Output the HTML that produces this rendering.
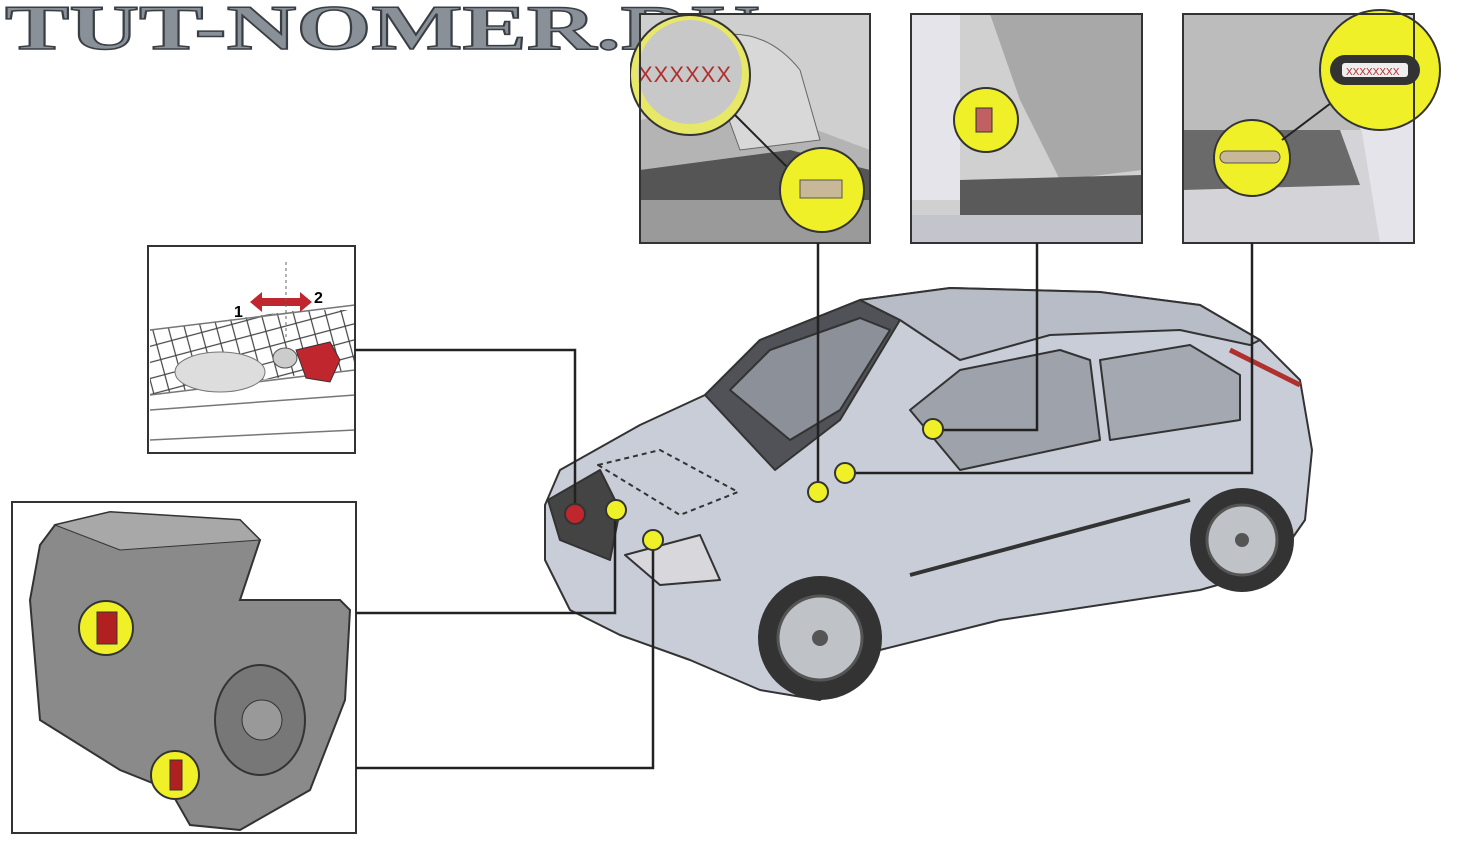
<!DOCTYPE html>
<html><head><meta charset="utf-8"><style>
html,body{margin:0;padding:0;background:#fff;width:1480px;height:848px;overflow:hidden}
svg{display:block}
</style></head><body>
<svg width="1480" height="848" viewBox="0 0 1480 848" xmlns="http://www.w3.org/2000/svg">
<defs>
<pattern id="hatch" width="22" height="22" patternUnits="userSpaceOnUse" patternTransform="rotate(30)">
<path d="M0 0L22 22M22 0L0 22" stroke="#444" stroke-width="1.2" fill="none"/>
</pattern>
<clipPath id="c1"><rect x="630" y="14" width="240" height="229"/></clipPath>
</defs>
<rect width="1480" height="848" fill="#fff"/>

<!-- title -->
<text x="5" y="49" font-family="Liberation Serif, serif" font-weight="bold" font-size="64" fill="#8a9098" stroke="#3a3f45" stroke-width="1.5" textLength="755" lengthAdjust="spacingAndGlyphs">TUT-NOMER.RU</text>

<!-- top box 1 -->
<g>
<rect x="640" y="14" width="230" height="229" fill="#b4b4b4"/>
<path d="M640 14H870V150L790 120 700 110 640 120Z" fill="#cfcfcf"/>
<path d="M640 170L790 150 870 170V200L640 200Z" fill="#555"/>
<path d="M640 200H870V243H640Z" fill="#9a9a9a"/>
<path d="M700 40Q760 20 800 70L820 140 740 150Z" fill="#d8d8d8" stroke="#666"/>
<g clip-path="url(#c1)">
<circle cx="690" cy="75" r="60" fill="#e8e868" stroke="#333" stroke-width="2"/>
<circle cx="690" cy="72" r="52" fill="#c8c8c8"/>
</g>
<text x="638" y="82" font-family="Liberation Sans, sans-serif" font-size="22" fill="#b03030" letter-spacing="1">XXXXXX</text>
<path d="M735 115L790 170" stroke="#222" stroke-width="2"/>
<circle cx="822" cy="190" r="42" fill="#f0f028" stroke="#333" stroke-width="2"/>
<rect x="800" y="180" width="42" height="18" fill="#c8b898" stroke="#555"/>
<rect x="640" y="14" width="230" height="229" fill="none" stroke="#333" stroke-width="2"/>
</g>
<!-- top box 2 -->
<g>
<rect x="911" y="14" width="231" height="229" fill="#d0d0d0"/>
<path d="M911 14H960V200H911Z" fill="#e4e4ea"/>
<path d="M990 14H1142V170L1060 180 1020 100Z" fill="#a8a8a8"/>
<path d="M960 180L1142 175V215L960 215Z" fill="#5a5a5a"/>
<path d="M911 215H1142V243H911Z" fill="#c4c4cc"/>
<circle cx="986" cy="120" r="32" fill="#f0f028" stroke="#333" stroke-width="2"/>
<rect x="976" y="108" width="16" height="24" fill="#c06060" stroke="#333"/>
<rect x="911" y="14" width="231" height="229" fill="none" stroke="#333" stroke-width="2"/>
</g>
<!-- top box 3 -->
<g>
<rect x="1183" y="14" width="231" height="229" fill="#d4d4d8"/>
<path d="M1183 14H1360V130H1183Z" fill="#bcbcbc"/>
<path d="M1183 130H1340L1360 185 1183 190Z" fill="#6a6a6a"/>
<path d="M1360 120L1414 110V243H1380Z" fill="#e4e4ea"/>
<circle cx="1252" cy="158" r="38" fill="#f0f028" stroke="#333" stroke-width="2"/>
<rect x="1220" y="151" width="60" height="12" rx="6" fill="#c8b898" stroke="#555"/>
<path d="M1282 140L1335 100" stroke="#222" stroke-width="2"/>
<circle cx="1380" cy="70" r="60" fill="#f0f028" stroke="#333" stroke-width="2"/>
<rect x="1330" y="55" width="90" height="30" rx="15" fill="#333"/>
<rect x="1342" y="63" width="66" height="14" rx="3" fill="#eee"/>
<text x="1346" y="75" font-family="Liberation Sans, sans-serif" font-size="10" fill="#b03030">XXXXXXXX</text>
<rect x="1183" y="14" width="231" height="229" fill="none" stroke="#333" stroke-width="2"/>
</g>

<!-- left box (grille) -->
<g>
<rect x="148" y="246" width="207" height="207" fill="#fff"/>
<path d="M150 330L300 310 355 310V370L300 375 150 395Z" fill="url(#hatch)"/>
<path d="M150 330L355 305M150 395L355 370M150 410L355 395M150 440L355 430" stroke="#777" stroke-width="1.5" fill="none"/>
<ellipse cx="220" cy="372" rx="45" ry="20" fill="#ddd" stroke="#777"/>
<ellipse cx="285" cy="358" rx="12" ry="10" fill="#ccc" stroke="#555"/>
<path d="M296 350L330 342 340 360 330 382 306 378Z" fill="#c0262e" stroke="#333"/>
<path d="M250 302L262 292V298H300V292L312 302 300 312V306H262V312Z" fill="#c0262e"/>
<text x="234" y="317" font-family="Liberation Sans, sans-serif" font-weight="bold" font-size="16">1</text>
<text x="314" y="303" font-family="Liberation Sans, sans-serif" font-weight="bold" font-size="16">2</text>
<line x1="286" y1="262" x2="286" y2="340" stroke="#666" stroke-dasharray="3 3"/>
<rect x="148" y="246" width="207" height="207" fill="none" stroke="#333" stroke-width="2"/>
</g>

<!-- engine box -->
<g>
<rect x="12" y="502" width="344" height="331" fill="#fff"/>
<path d="M55 525L110 512 240 520 260 540 240 600 340 600 350 610 345 700 310 790 240 830 190 825 170 790 120 770 40 720 30 600 40 545Z" fill="#8a8a8a" stroke="#333" stroke-width="2"/>
<path d="M55 525L110 512 240 520 260 540 120 550Z" fill="#a8a8a8" stroke="#333"/>
<ellipse cx="260" cy="720" rx="45" ry="55" fill="#777" stroke="#333" stroke-width="2"/>
<circle cx="262" cy="720" r="20" fill="#999" stroke="#333"/>
<circle cx="106" cy="628" r="27" fill="#f0f028" stroke="#333" stroke-width="2"/>
<rect x="97" y="612" width="20" height="32" fill="#b02020" stroke="#333"/>
<circle cx="175" cy="775" r="24" fill="#f0f028" stroke="#333" stroke-width="2"/>
<rect x="170" y="760" width="12" height="30" fill="#b02020" stroke="#333"/>
<rect x="12" y="502" width="344" height="331" fill="none" stroke="#333" stroke-width="2"/>
</g>

<!-- car -->
<g stroke="#333" stroke-width="2" stroke-linejoin="round">
<path d="M545 505L560 470 640 425 705 395 760 340 860 300 950 288 1100 292 1200 305 1260 340 1300 380 1312 450 1305 520 1270 570 1200 590 1000 620 880 650 820 700 760 690 690 660 620 635 570 610 545 560Z" fill="#c8cdd8"/>
<path d="M705 395L760 340 860 300 900 320 840 420 775 470Z" fill="#505258"/>
<path d="M730 390L770 350 860 318 890 330 840 410 790 440Z" fill="#8c9098"/>
<path d="M860 300L950 288 1100 292 1200 305 1260 340 1250 345 1180 330 1050 335 960 360 900 320Z" fill="#b8bcc6"/>
<path d="M910 410L960 370 1060 350 1090 360 1100 440 960 470Z" fill="#9ea2aa"/>
<path d="M1100 360L1190 345 1240 375 1240 420 1110 440Z" fill="#a4a8b0"/>
<path d="M548 500L600 470 620 510 610 560 560 540Z" fill="#444"/>
<path d="M625 555L700 535 720 580 660 585Z" fill="#d8d8dc"/>
<path d="M910 575L1190 500" fill="none" stroke="#333" stroke-width="4"/>
<polygon points="598,465 660,450 738,492 680,515" fill="none" stroke="#333" stroke-dasharray="5 4"/>
<path d="M1230 350L1300 385" stroke="#b03030" stroke-width="5"/>
</g>
<circle cx="820" cy="638" r="62" fill="#333"/>
<circle cx="820" cy="638" r="42" fill="#bfc3c8" stroke="#555" stroke-width="3"/>
<circle cx="820" cy="638" r="8" fill="#555"/>
<circle cx="1242" cy="540" r="52" fill="#333"/>
<circle cx="1242" cy="540" r="35" fill="#bfc3c8" stroke="#555" stroke-width="3"/>
<circle cx="1242" cy="540" r="7" fill="#555"/>

<!-- connectors -->
<g fill="none" stroke="#222" stroke-width="2.5">
<polyline points="355,350 575,350 575,512"/>
<polyline points="356,613 615,613 615,512"/>
<polyline points="356,768 653,768 653,540"/>
<polyline points="818,243 818,492"/>
<polyline points="1037,243 1037,430 933,430"/>
<polyline points="1252,243 1252,473 845,473"/>
</g>
<g stroke="#333" stroke-width="2">
<circle cx="575" cy="514" r="10" fill="#c0262e"/>
<circle cx="616" cy="510" r="10" fill="#f0f028"/>
<circle cx="653" cy="540" r="10" fill="#f0f028"/>
<circle cx="818" cy="492" r="10" fill="#f0f028"/>
<circle cx="845" cy="473" r="10" fill="#f0f028"/>
<circle cx="933" cy="429" r="10" fill="#f0f028"/>
</g>
</svg>
</body></html>
